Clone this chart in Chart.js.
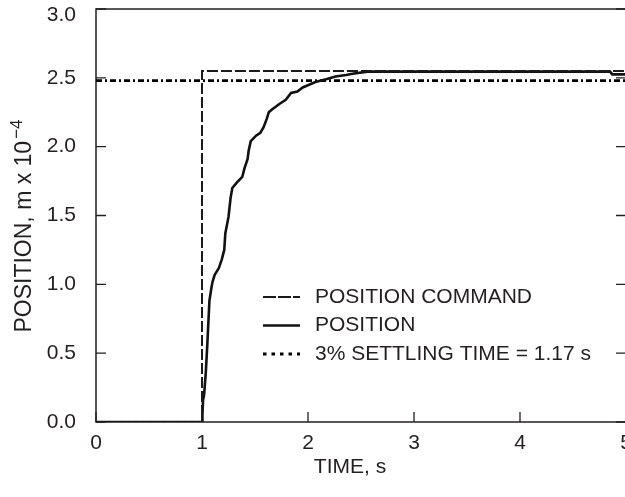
<!DOCTYPE html>
<html>
<head>
<meta charset="utf-8">
<script src="https://cdn.jsdelivr.net/npm/chart.js@4/dist/chart.umd.min.js"></script>
<style>
  html, body { margin: 0; padding: 0; background: #fff; overflow: hidden; }
  #wrap { width: 640px; height: 497px; }
</style>
</head>
<body>
<div id="wrap"><canvas id="c" width="640" height="497"></canvas></div>
<script>
// Axis ticks
const timeTicks = [0, 1, 2, 3, 4, 5];
const positionTicks = [0, 0.5, 1.0, 1.5, 2.0, 2.5, 3.0];

// Step command issued at t = 1 s
const commandTime  = [0, 1, 1, 5];
const commandValue = [0, 0, 2.55, 2.55];

// Measured position response
const positionTime = [0, 1.0, 1.004, 1.01, 1.02, 1.035, 1.05, 1.07, 1.09, 1.10, 1.12, 1.16, 1.186, 1.21, 1.22,
  1.25, 1.27, 1.286, 1.33, 1.38, 1.40, 1.43, 1.44, 1.46, 1.51, 1.55, 1.58, 1.61, 1.63, 1.66, 1.73, 1.79,
  1.84, 1.90, 1.95, 2.01, 2.07, 2.17, 2.26, 2.36, 2.42, 2.56, 4.85, 4.87, 5.0];
const positionValue = [0, 0, 0.05, 0.16, 0.20, 0.35, 0.56, 0.88, 0.98, 1.02, 1.07, 1.12, 1.18, 1.25, 1.37,
  1.49, 1.63, 1.70, 1.74, 1.78, 1.84, 1.91, 1.97, 2.04, 2.08, 2.10, 2.14, 2.20, 2.25, 2.27, 2.31, 2.34,
  2.39, 2.40, 2.43, 2.45, 2.47, 2.49, 2.51, 2.52, 2.53, 2.545, 2.545, 2.525, 2.525];

// 3 % settling band
const settlingTime  = [0, 5];
const settlingValue = [2.48, 2.48];

const seriesLabels = ['POSITION COMMAND', 'POSITION', '3% SETTLING TIME = 1.17 s'];
const xTitle = 'TIME, s';
const yTitleMain = 'POSITION, m x 10';
const yTitleExp = '\u22124';

const ink = '#231f20';
const family = "'Liberation Sans', Arial, Helvetica, sans-serif";
const pts = (xs, ys) => xs.map((x, i) => ({ x, y: ys[i] }));
const yMax = positionTicks[positionTicks.length - 1];

// Box frame with inward tick marks
const framePlugin = {
  id: 'frame',
  beforeDatasetsDraw(chart) {
    const { ctx, chartArea: a, scales: { x, y } } = chart;
    ctx.save();
    ctx.strokeStyle = ink;
    ctx.lineWidth = 1.5;
    ctx.strokeRect(a.left, a.top, a.right - a.left, a.bottom - a.top);
    ctx.lineWidth = 1.3;
    ctx.beginPath();
    y.ticks.forEach(t => {
      const py = y.getPixelForValue(t.value);
      ctx.moveTo(a.left, py); ctx.lineTo(a.left + 10, py);
      ctx.moveTo(a.right, py); ctx.lineTo(a.right - 10, py);
    });
    x.ticks.forEach(t => {
      const px = x.getPixelForValue(t.value);
      ctx.moveTo(px, a.bottom); ctx.lineTo(px, a.bottom - 10);
    });
    ctx.stroke();
    ctx.restore();
  }
};

// Legend placed inside the plot
const insetLegend = {
  id: 'insetLegend',
  afterDraw(chart, args, opts) {
    const { ctx } = chart;
    ctx.save();
    ctx.font = `${opts.size}px ${family}`;
    ctx.textBaseline = 'middle';
    ctx.textAlign = 'left';
    ctx.fillStyle = ink;
    chart.data.datasets.forEach((ds, i) => {
      const yy = opts.top + i * opts.rowGap;
      ctx.strokeStyle = ds.borderColor;
      ctx.lineWidth = ds.legendWidth || ds.borderWidth;
      ctx.setLineDash(ds.legendDash || []);
      ctx.beginPath();
      ctx.moveTo(opts.left, yy);
      ctx.lineTo(opts.left + opts.sample, yy);
      ctx.stroke();
      ctx.setLineDash([]);
      ctx.fillText(ds.label, opts.left + opts.sample + opts.gap, yy);
    });
    ctx.restore();
  }
};

// Axis titles: TIME below, rotated POSITION with exponent at left
const axisTitles = {
  id: 'axisTitles',
  afterDraw(chart, args, opts) {
    const { ctx } = chart;
    ctx.save();
    ctx.fillStyle = ink;
    ctx.textBaseline = 'middle';

    ctx.textAlign = 'center';
    ctx.font = `${opts.x.size}px ${family}`;
    ctx.fillText(xTitle, opts.x.cx, opts.x.cy);

    const o = opts.y;
    ctx.translate(o.cx, o.cy);
    ctx.rotate(-Math.PI / 2);
    ctx.textAlign = 'left';
    ctx.font = `${o.size}px ${family}`;
    const mainW = ctx.measureText(yTitleMain).width;
    ctx.font = `${o.supSize}px ${family}`;
    const supW = ctx.measureText(yTitleExp).width;
    const x0 = -(mainW + 2 + supW) / 2;
    ctx.font = `${o.size}px ${family}`;
    ctx.fillText(yTitleMain, x0, 0);
    ctx.font = `${o.supSize}px ${family}`;
    ctx.fillText(yTitleExp, x0 + mainW + 2, -o.raise);
    ctx.restore();
  }
};

new Chart(document.getElementById('c'), {
  type: 'line',
  data: {
    datasets: [
      {
        label: seriesLabels[0],
        data: pts(commandTime, commandValue),
        borderColor: '#1a1a1a',
        borderWidth: 2,
        borderDash: [11, 3],
        legendDash: [13, 2],
        pointRadius: 0
      },
      {
        label: seriesLabels[1],
        data: pts(positionTime, positionValue),
        borderColor: '#111',
        borderWidth: 2.6,
        pointRadius: 0
      },
      {
        label: seriesLabels[2],
        data: pts(settlingTime, settlingValue),
        borderColor: '#000',
        borderWidth: 2.6,
        borderDash: [6, 3, 2, 3],
        legendDash: [3.5, 5],
        legendWidth: 3,
        pointRadius: 0
      }
    ]
  },
  options: {
    responsive: false,
    animation: false,
    devicePixelRatio: 1,
    layout: { autoPadding: false, padding: { left: 0, top: 9, right: 14, bottom: 0 } },
    elements: { line: { tension: 0, borderCapStyle: 'butt' } },
    scales: {
      x: {
        type: 'linear',
        min: 0, max: 5,
        afterBuildTicks: s => { s.ticks = timeTicks.map(v => ({ value: v })); },
        afterFit: s => { s.height = 75; s.paddingLeft = 0; s.paddingRight = 0; },
        grid: { display: false },
        border: { display: false },
        ticks: { color: ink, font: { family, size: 21 }, padding: 1, callback: v => String(v) }
      },
      y: {
        type: 'linear',
        min: 0, max: yMax,
        afterBuildTicks: s => { s.ticks = positionTicks.map(v => ({ value: v })); },
        afterFit: s => { s.width = 96; s.paddingTop = 0; s.paddingBottom = 0; },
        grid: { display: false },
        border: { display: false },
        ticks: {
          color: ink,
          padding: 12,
          // the top label sits just below the frame line
          font: c => ({ family, size: 21, lineHeight: c.tick && c.tick.value === yMax ? 0.6 : 1.2 }),
          callback: v => v === yMax ? ['', Number(v).toFixed(1)] : Number(v).toFixed(1)
        }
      }
    },
    plugins: {
      legend: { display: false },
      tooltip: { enabled: false },
      insetLegend: { left: 263, top: 297, rowGap: 28.5, sample: 37, gap: 15, size: 21 },
      axisTitles: {
        x: { cx: 350, cy: 467, size: 21 },
        y: { cx: 25, cy: 226, size: 23, supSize: 17, raise: 8 }
      }
    }
  },
  plugins: [framePlugin, insetLegend, axisTitles]
});
</script>
</body>
</html>
